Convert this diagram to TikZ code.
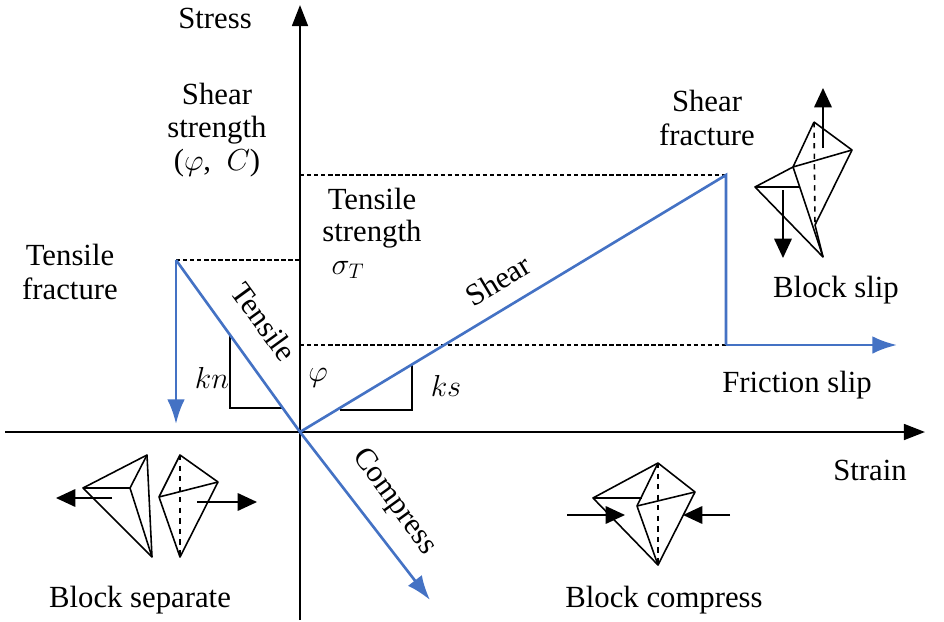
\documentclass[tikz,border=0pt]{standalone}
\usepackage{fontspec}
\setmainfont{Liberation Serif}
\usetikzlibrary{arrows.meta,positioning}
\definecolor{lineblue}{RGB}{68,114,196}
\tikzstyle{lbl} = [font=\fontsize{17.5}{20}\selectfont, align=center, inner sep=1pt]
\tikzstyle{curve} = [draw=lineblue, line width=1.5pt]
\tikzstyle{guide} = [dashed, dash pattern=on 2.5pt off 1.5pt, line width=0.9pt]
\tikzstyle{blk} = [line width=0.9pt, line join=round]
\tikzstyle{force} = [line width=0.9pt, -{Triangle[length=11pt,width=10pt]}]
\begin{document}
\begin{tikzpicture}[x=0.02cm, y=-0.02cm]
    \useasboundingbox (0,0) rectangle (944,622);
    % axes
    \coordinate (xl) at (5,432);
    \coordinate (xr) at (925,432);
    \coordinate (yb) at (300,620);
    \coordinate (yt) at (300,5);
    \coordinate (O) at (300,432);
    \draw [line width=1.3pt, -{Triangle[length=12pt,width=9pt]}] (xl) -- (xr);
    \draw [line width=1.3pt, -{Triangle[length=12pt,width=9pt]}] (yb) -- (yt);
    % key points
    \coordinate (tf) at (176,260);
    \coordinate (tfd) at (176,424);
    \coordinate (sf) at (726,175);
    \coordinate (fs) at (726,345);
    \coordinate (fse) at (897,345);
    \coordinate (ce) at (430,600);
    \coordinate (ya) at (300,175);
    \coordinate (yb2) at (300,260);
    \coordinate (yc) at (300,345);
    % dotted guides
    \draw [guide] (ya) -- (sf);
    \draw [guide] (tf) -- (yb2);
    \draw [guide] (yc) -- (fs);
    % triangles
    \draw [line width=0.8pt] (230,336) -- (230,408) -- (283,408);
    \draw [line width=0.8pt] (412,364) -- (412,410) -- (340,410);
    % blue curves
    \draw [curve, -{Latex[length=14pt,width=10pt]}] (tf) -- (tfd);
    \draw [curve, -{Latex[length=14pt,width=10pt]}] (tf) -- (O) -- (ce);
    \draw [curve] (O) -- (sf) -- (fs);
    \draw [curve, -{Latex[length=14pt,width=10pt]}] (fs) -- (fse);
    % labels
    \node [lbl] (stress) at (215,18) {Stress};
    \node [lbl] (shs) at (217,130) {Shear\\[-1pt]strength\\[-1pt](\(\varphi\),\enspace\(C\))};
    \node [lbl] (tens) at (372,218) {Tensile\\[-2pt]strength};
    \node [lbl] (sigma) at (348,270) {\(\sigma_T\)};
    \node [lbl] (tfr) at (70,272) {Tensile\\[-1pt]fracture};
    \node [lbl] (sfr) at (707,118) {Shear\\[-1pt]fracture};
    \node [lbl] (bslip) at (836,290) {Block slip};
    \node [lbl] (fslip) at (797,385) {Friction slip};
    \node [lbl] (strain) at (870,470) {Strain};
    \node [lbl] (bsep) at (140,600) {Block separate};
    \node [lbl] (bcom) at (664,600) {Block compress};
    \node [lbl] (kn) at (212,378) {\(kn\)};
    \node [lbl] (phi) at (318,378) {\(\varphi\)};
    \node [lbl] (ks) at (446,386) {\(ks\)};
    \node [lbl, rotate=-54] (tl) at (264,322) {Tensile};
    \node [lbl, rotate=31] (shl) at (498,280) {Shear};
    \node [lbl, rotate=-54] (cl) at (394,502) {Compress};
    % block separate
    \draw [blk] (147,455) -- (83,488) -- (152,557) -- cycle;
    \draw [blk] (83,488) -- (130,488) -- (147,455);
    \draw [blk] (130,488) -- (152,557);
    \draw [force] (112,498) -- (56,498);
    \draw [blk] (180,455) -- (218,482) -- (180,557) -- (159,497) -- cycle;
    \draw [blk] (159,497) -- (218,482);
    \draw [blk, dashed] (180,455) -- (180,557);
    \draw [force] (197,502) -- (257,502);
    % block compress
    \draw [blk] (593,498) -- (658,463) -- (695,492) -- (658,565) -- cycle;
    \draw [blk] (658,463) -- (637,506) -- (658,565);
    \draw [blk] (637,506) -- (695,492);
    \draw [blk] (593,498) -- (642,498);
    \draw [blk, dashed] (658,463) -- (658,565);
    \draw [force] (567,515) -- (625,515);
    \draw [force] (730,515) -- (683,515);
    % block slip
    \draw [blk] (814,122) -- (852,150) -- (815,225);
    \draw [blk] (814,122) -- (793,167) -- (852,150);
    \draw [blk] (755,187) -- (793,167) -- (823,257) -- cycle;
    \draw [blk] (755,187) -- (800,187);
    \draw [blk] (815,225) -- (823,257);
    \draw [blk, dashed] (814,122) -- (815,225);
    \draw [force] (823,148) -- (823,88);
    \draw [force] (783,190) -- (783,258);
\end{tikzpicture}
\end{document}
